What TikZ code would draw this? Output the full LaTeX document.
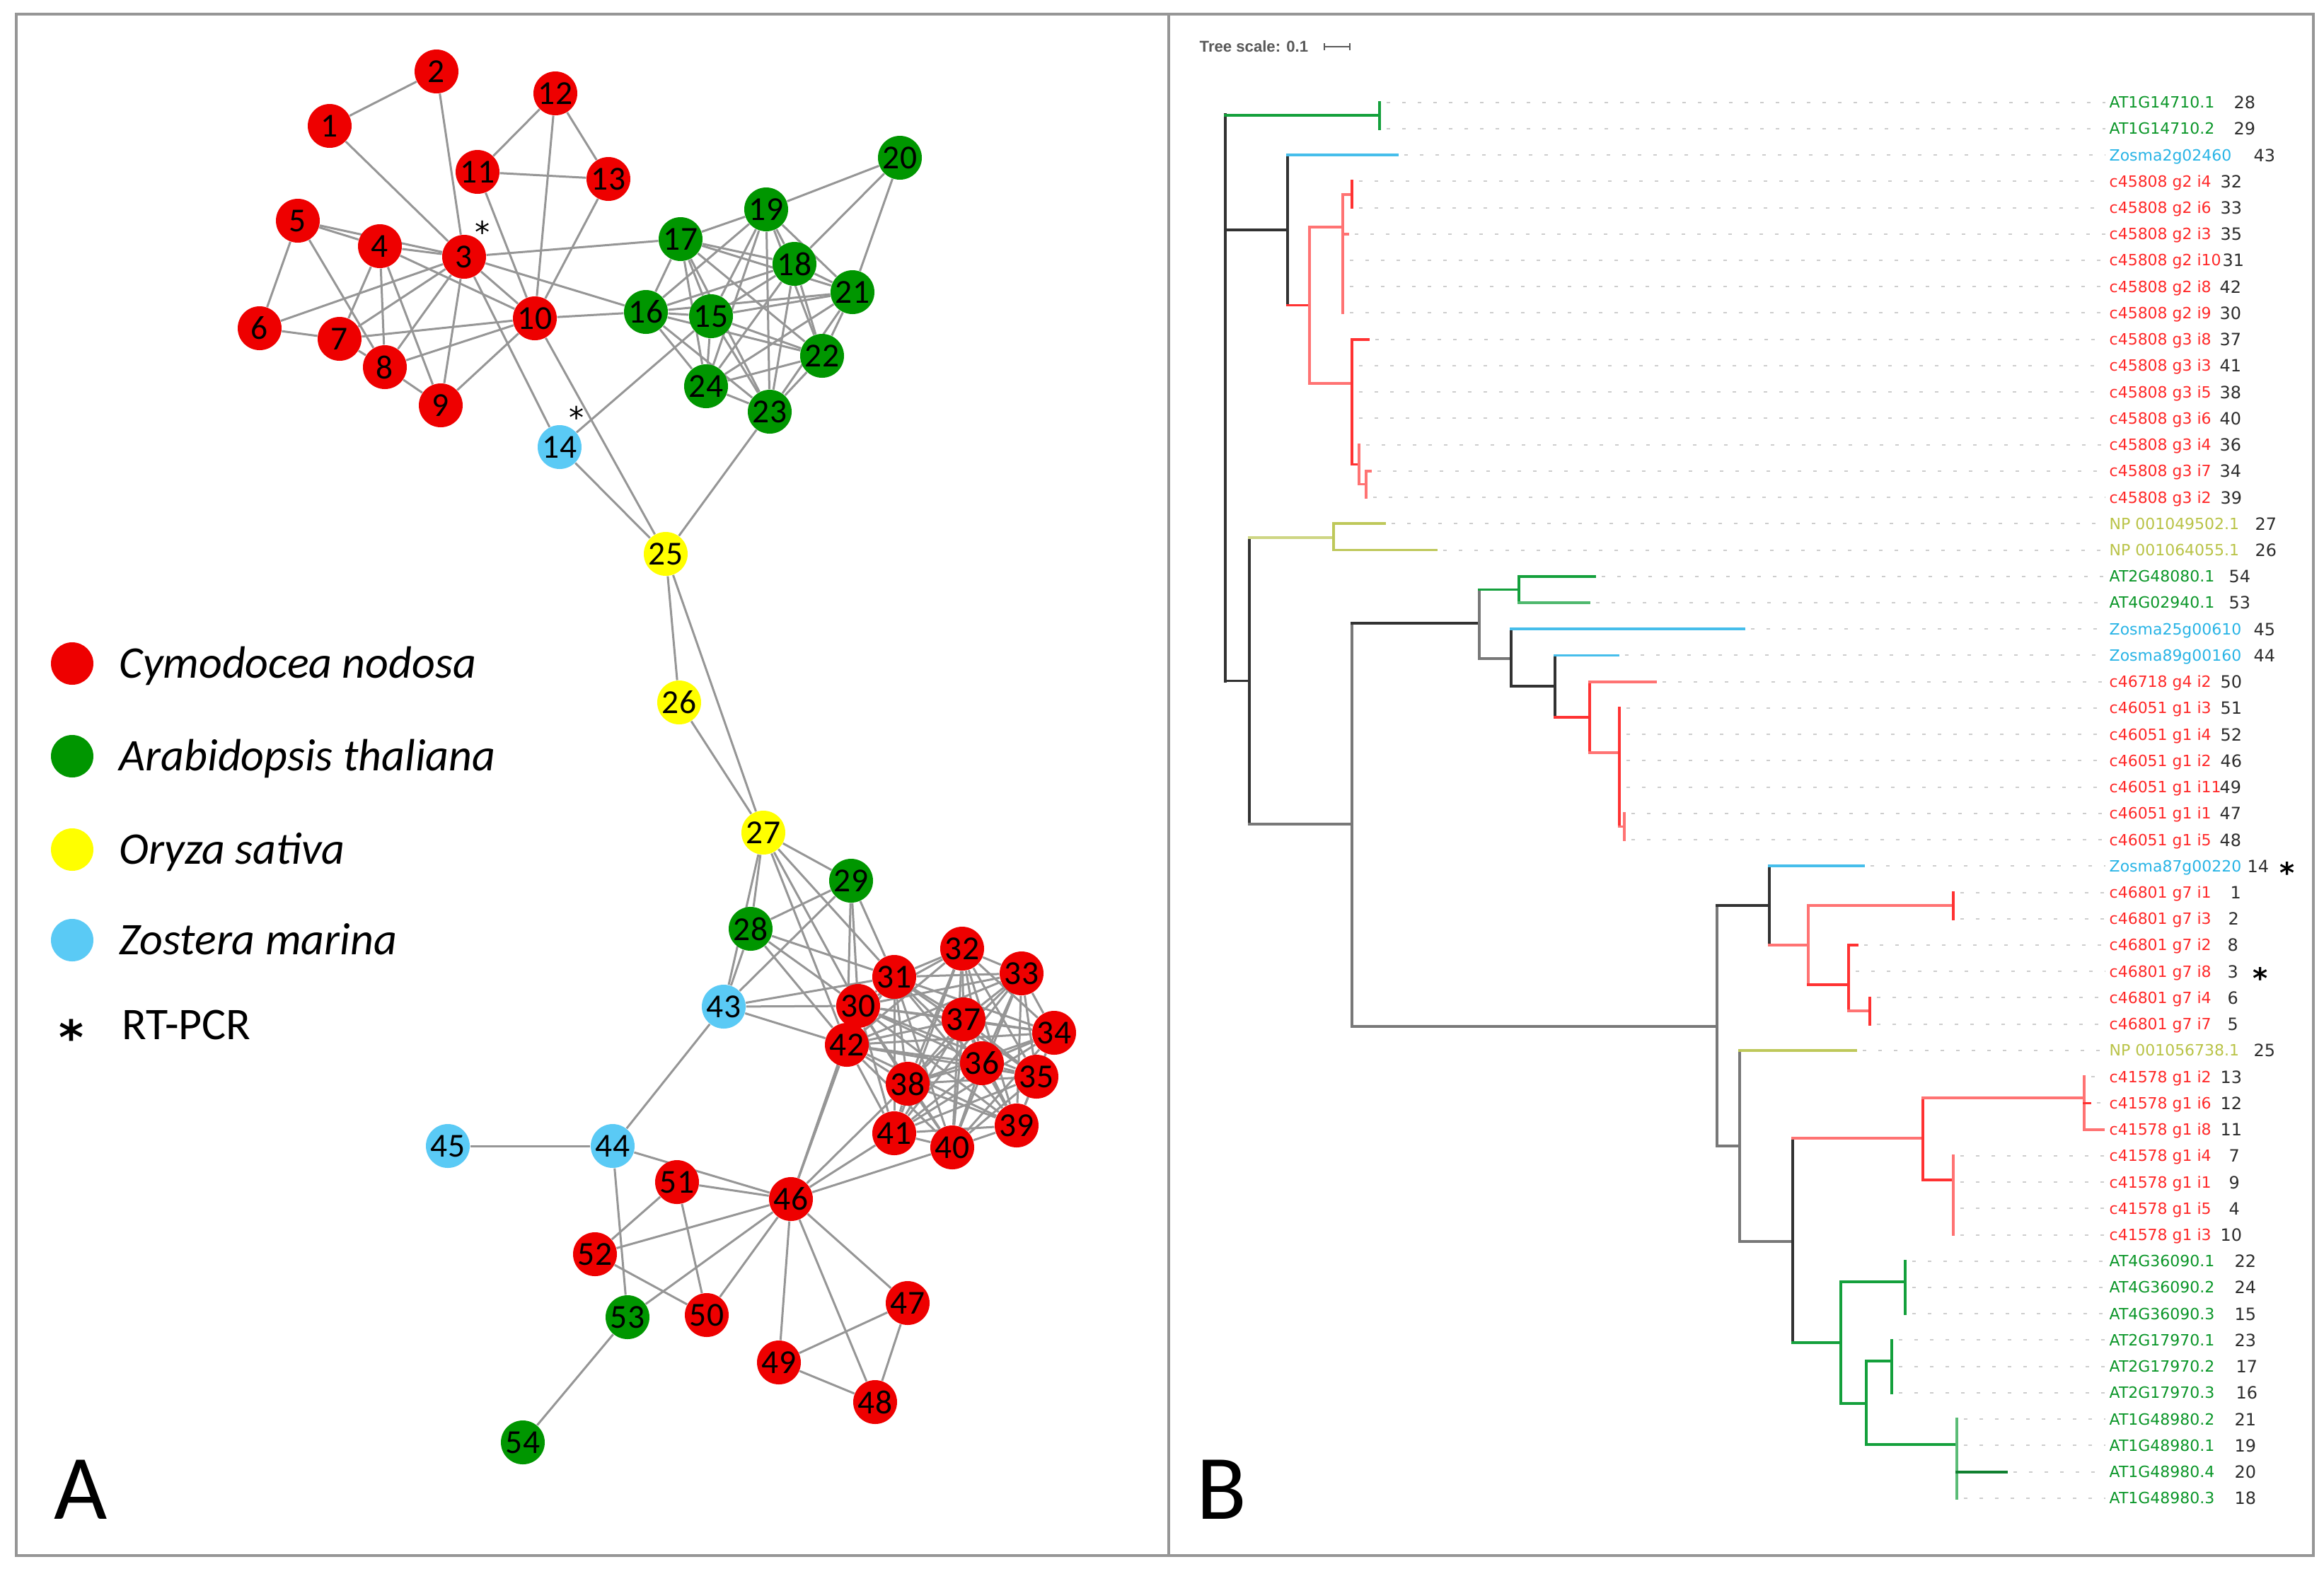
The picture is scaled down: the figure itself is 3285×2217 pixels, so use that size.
\documentclass[tikz,border=0pt]{standalone}
\usepackage{fontspec}
\setmainfont{Carlito}
\newfontfamily\treefont{DejaVu Sans}
\newfontfamily\scalefnt{Liberation Sans}
\definecolor{netred}{RGB}{238,0,0}
\definecolor{netgreen}{RGB}{0,150,0}
\definecolor{netyellow}{RGB}{255,255,0}
\definecolor{netblue}{RGB}{90,202,245}
\definecolor{edgegray}{RGB}{150,150,150}
\definecolor{tred}{RGB}{255,50,50}
\definecolor{tredl}{RGB}{255,115,115}
\definecolor{tgreen}{RGB}{20,160,60}
\definecolor{tblue}{RGB}{70,190,235}
\definecolor{tolive}{RGB}{190,200,90}
\definecolor{tdark}{RGB}{50,50,50}
\definecolor{tgray}{RGB}{120,120,120}
\definecolor{lred}{RGB}{255,40,40}
\definecolor{lgreen}{RGB}{10,150,40}
\definecolor{lblue}{RGB}{40,180,230}
\definecolor{lolive}{RGB}{185,195,70}
\definecolor{numgray}{RGB}{45,45,45}
\definecolor{guidegray}{RGB}{205,205,205}
\definecolor{framegray}{RGB}{150,150,150}
\pgfdeclarelayer{back}
\pgfdeclarelayer{edges}
\pgfsetlayers{back,edges,main}
\begin{document}
\begin{tikzpicture}[x=0.1mm,y=-0.1mm,
  net/.style={circle, minimum size=6.2mm, inner sep=0pt, font=\fontsize{13.5}{14}\selectfont, text=black},
  sred/.style={net, fill=netred},
  sgreen/.style={net, fill=netgreen},
  syellow/.style={net, fill=netyellow},
  sblue/.style={net, fill=netblue},
  edge/.style={draw=edgegray, line width=0.3mm},
  br/.style={line width=0.38mm, line cap=rect},
  guide/.style={draw=guidegray, line width=0.2mm, dash pattern=on 0.5mm off 1.7mm},
  lab/.style={anchor=base west, inner sep=0pt, font=\treefont\fontsize{6.25}{7}\selectfont},
  num/.style={anchor=base west, inner sep=0pt, font=\treefont\fontsize{6.8}{7}\selectfont, text=numgray},
  legtext/.style={anchor=base west, inner sep=0pt, font=\fontsize{18.2}{19}\selectfont\itshape},
  star/.style={anchor=base, inner sep=0pt}
]
\useasboundingbox (0,0) rectangle (3285,2217);
\begin{pgfonlayer}{back}
\fill[white] (0,0) rectangle (3285,2217);
\end{pgfonlayer}
% frame
\draw[framegray, line width=0.45mm] (23,20) rectangle (3270,2199);
\draw[framegray, line width=0.45mm] (1652,20) -- (1652,2199);

% ---------------- Panel A: network nodes
\node[sred] (n1) at (466,178) {1};
\node[sred] (n2) at (617,101) {2};
\node[sred] (n3) at (656,363) {3};
\node[sred] (n4) at (537,348) {4};
\node[sred] (n5) at (421,312) {5};
\node[sred] (n6) at (367,464) {6};
\node[sred] (n7) at (480,479) {7};
\node[sred] (n8) at (544,519) {8};
\node[sred] (n9) at (623,573) {9};
\node[sred] (n10) at (756,450) {10};
\node[sred] (n11) at (675,243) {11};
\node[sred] (n12) at (785,132) {12};
\node[sred] (n13) at (860,253) {13};
\node[sblue] (n14) at (791,632) {14};
\node[sgreen] (n15) at (1005,447) {15};
\node[sgreen] (n16) at (913,441) {16};
\node[sgreen] (n17) at (962,338) {17};
\node[sgreen] (n18) at (1123,373) {18};
\node[sgreen] (n19) at (1083,296) {19};
\node[sgreen] (n20) at (1272,223) {20};
\node[sgreen] (n21) at (1205,413) {21};
\node[sgreen] (n22) at (1162,503) {22};
\node[sgreen] (n23) at (1088,582) {23};
\node[sgreen] (n24) at (998,546) {24};
\node[syellow] (n25) at (941,783) {25};
\node[syellow] (n26) at (960,993) {26};
\node[syellow] (n27) at (1079,1177) {27};
\node[sgreen] (n28) at (1061,1313) {28};
\node[sgreen] (n29) at (1203,1245) {29};
\node[sred] (n30) at (1213,1422) {30};
\node[sred] (n31) at (1264,1381) {31};
\node[sred] (n32) at (1360,1341) {32};
\node[sred] (n33) at (1444,1376) {33};
\node[sred] (n34) at (1490,1460) {34};
\node[sred] (n35) at (1465,1522) {35};
\node[sred] (n36) at (1388,1503) {36};
\node[sred] (n37) at (1362,1441) {37};
\node[sred] (n38) at (1283,1532) {38};
\node[sred] (n39) at (1437,1591) {39};
\node[sred] (n40) at (1346,1622) {40};
\node[sred] (n41) at (1264,1602) {41};
\node[sred] (n42) at (1197,1477) {42};
\node[sblue] (n43) at (1023,1423) {43};
\node[sblue] (n44) at (866,1620) {44};
\node[sblue] (n45) at (633,1620) {45};
\node[sred] (n46) at (1118,1695) {46};
\node[sred] (n47) at (1283,1842) {47};
\node[sred] (n48) at (1237,1982) {48};
\node[sred] (n49) at (1101,1926) {49};
\node[sred] (n50) at (999,1859) {50};
\node[sred] (n51) at (957,1671) {51};
\node[sred] (n52) at (841,1773) {52};
\node[sgreen] (n53) at (887,1862) {53};
\node[sgreen] (n54) at (739,2039) {54};

\node[star, font=\treefont\fontsize{12}{13}\selectfont] (st3) at (682,343) {*};
\node[star, font=\treefont\fontsize{12}{13}\selectfont] (st14) at (815,605) {*};

\begin{pgfonlayer}{edges}
\foreach \a/\b in {1/2,1/3,2/3,12/11,12/10,12/13,11/13,11/10,13/10,5/4,5/3,5/6,5/8,6/7,6/3,7/8,4/7,4/8,4/9,4/3,4/10,7/3,7/10,8/3,8/10,8/9,9/3,9/10,3/10,3/14,3/16,3/17,10/16,10/25,14/25,14/15,23/25,20/19,20/18,20/21,25/26,26/27,25/27,27/29,27/28,27/43,27/31,27/30,27/42,29/28,29/43,29/30,29/42,29/31,28/31,28/30,28/42,28/43,43/31,43/30,43/42,43/44,44/45,44/46,44/53,51/46,51/52,51/50,52/46,52/50,53/46,53/54,50/46,46/49,46/48,46/47,47/49,47/48,49/48,46/42,46/30,46/41,46/40,46/38}
  {\draw[edge] (n\a) -- (n\b);}
\foreach \a/\rest in {15/{16,17,18,19,21,22,23,24},16/{17,18,19,21,22,23,24},17/{18,19,21,22,23,24},18/{19,21,22,23,24},19/{21,22,23,24},21/{22,23,24},22/{23,24},23/{24}}
  {\foreach \b in \rest {\draw[edge] (n\a) -- (n\b);}}
\foreach \a in {30,...,41}
  {\pgfmathtruncatemacro\c{\a+1}
   \foreach \b in {\c,...,42} {\draw[edge] (n\a) -- (n\b);}}
\end{pgfonlayer}

% legend
\node[net, fill=netred, minimum size=6mm] (lg1) at (102,938) {};
\node[net, fill=netgreen, minimum size=6mm] (lg2) at (102,1069) {};
\node[net, fill=netyellow, minimum size=6mm] (lg3) at (102,1201) {};
\node[net, fill=netblue, minimum size=6mm] (lg4) at (102,1329) {};
\node[legtext] (lt1) at (168,958) {Cymodocea nodosa};
\node[legtext] (lt2) at (168,1089) {Arabidopsis thaliana};
\node[legtext] (lt3) at (168,1221) {Oryza sativa};
\node[legtext] (lt4) at (168,1349) {Zostera marina};
\node[star, font=\treefont\bfseries\fontsize{19}{20}\selectfont] (lst) at (101,1490) {*};
\node[legtext, font=\fontsize{18.2}{19}\selectfont\upshape] (lt5) at (172,1469) {RT-PCR};

\node[anchor=base west, inner sep=0pt, font=\fontsize{37}{40}\selectfont] (pa) at (76,2147) {A};
\node[anchor=base west, inner sep=0pt, font=\fontsize{37}{40}\selectfont] (pb) at (1691,2147) {B};

% ---------------- Panel B: tree
\node[anchor=base west, inner sep=0pt, text=black!65, font=\scalefnt\bfseries\fontsize{6.3}{7}\selectfont] (ts) at (1695,73) {Tree scale: 0.1};
\draw[black!65, line width=0.2mm] (1872,66) -- (1908,66);
\draw[black!65, line width=0.2mm] (1872,61) -- (1872,71);
\draw[black!65, line width=0.2mm] (1908,61) -- (1908,71);

\foreach \i/\tip/\t/\c/\n/\nx in {
1/1950/AT1G14710.1/lgreen/28/3157,
2/1950/AT1G14710.2/lgreen/29/3157,
3/1975/Zosma2g02460/lblue/43/3185,
4/1911/c45808 g2 i4/lred/32/3138,
5/1911/c45808 g2 i6/lred/33/3138,
6/1905/c45808 g2 i3/lred/35/3138,
7/1898/c45808 g2 i10/lred/31/3141,
8/1898/c45808 g2 i8/lred/42/3137,
9/1898/c45808 g2 i9/lred/30/3137,
10/1934/c45808 g3 i8/lred/37/3137,
11/1911/c45808 g3 i3/lred/41/3137,
12/1911/c45808 g3 i5/lred/38/3137,
13/1911/c45808 g3 i6/lred/40/3137,
14/1921/c45808 g3 i4/lred/36/3137,
15/1937/c45808 g3 i7/lred/34/3137,
16/1931/c45808 g3 i2/lred/39/3138,
17/1957/NP 001049502.1/lolive/27/3187,
18/2030/NP 001064055.1/lolive/26/3187,
19/2254/AT2G48080.1/lgreen/54/3150,
20/2246/AT4G02940.1/lgreen/53/3150,
21/2465/Zosma25g00610/lblue/45/3185,
22/2287/Zosma89g00160/lblue/44/3185,
23/2340/c46718 g4 i2/lred/50/3138,
24/2289/c46051 g1 i3/lred/51/3138,
25/2289/c46051 g1 i4/lred/52/3138,
26/2289/c46051 g1 i2/lred/46/3138,
27/2289/c46051 g1 i11/lred/49/3137,
28/2296/c46051 g1 i1/lred/47/3137,
29/2296/c46051 g1 i5/lred/48/3137,
30/2634/Zosma87g00220/lblue/14/3176,
31/2761/c46801 g7 i1/lred/1/3152,
32/2761/c46801 g7 i3/lred/2/3149,
33/2625/c46801 g7 i2/lred/8/3148,
34/2613/c46801 g7 i8/lred/3/3148,
35/2643/c46801 g7 i4/lred/6/3148,
36/2643/c46801 g7 i7/lred/5/3148,
37/2623/NP 001056738.1/lolive/25/3185,
38/2946/c41578 g1 i2/lred/13/3138,
39/2954/c41578 g1 i6/lred/12/3138,
40/2960/c41578 g1 i8/lred/11/3138,
41/2761/c41578 g1 i4/lred/7/3150,
42/2761/c41578 g1 i1/lred/9/3150,
43/2761/c41578 g1 i5/lred/4/3150,
44/2761/c41578 g1 i3/lred/10/3138,
45/2693/AT4G36090.1/lgreen/22/3158,
46/2693/AT4G36090.2/lgreen/24/3158,
47/2693/AT4G36090.3/lgreen/15/3158,
48/2674/AT2G17970.1/lgreen/23/3158,
49/2674/AT2G17970.2/lgreen/17/3160,
50/2674/AT2G17970.3/lgreen/16/3160,
51/2766/AT1G48980.2/lgreen/21/3158,
52/2766/AT1G48980.1/lgreen/19/3158,
53/2836/AT1G48980.4/lgreen/20/3158,
54/2766/AT1G48980.3/lgreen/18/3158}
{
  \pgfmathsetmacro\yy{144.6+(\i-1)*37.23}
  \draw[guide] (\tip+10,\yy) -- (2976,\yy);
  \node[lab, text=\c] (L\i) at (2981,\yy+8) {\t};
  \node[num] (N\i) at (\nx,\yy+9) {\n};
}
\node[star, font=\treefont\bfseries\fontsize{11.5}{12}\selectfont] (ts30) at (3233,1248) {*};
\node[star, font=\treefont\bfseries\fontsize{11.5}{12}\selectfont] (ts34) at (3195,1397) {*};

% branches
\draw[br, tdark] (1732,162) -- (1732,963);
\draw[br, tgreen] (1732,163.2) -- (1950,163.2);
\draw[br, tgreen] (1950,144.6) -- (1950,181.8);
\draw[br, tdark] (1732,325.3) -- (1820,325.3);
\draw[br, tdark] (1820,219.1) -- (1820,431.5);
\draw[br, tblue] (1820,219.1) -- (1975,219.1);
\draw[br, tred] (1820,431.5) -- (1851,431.5);
\draw[br, tredl] (1851,321) -- (1851,542);
\draw[br, tredl] (1851,321) -- (1898,321);
\draw[br, tredl] (1898,274.9) -- (1898,442.4);
\draw[br, tredl] (1898,274.9) -- (1911,274.9);
\draw[br, tred] (1911,256.3) -- (1911,293.5);
\draw[br, tredl] (1898,330.8) -- (1905,330.8);
\draw[br, tredl] (1851,542) -- (1911,542);
\draw[br, tred] (1911,479.7) -- (1911,656.5);
\draw[br, tred] (1911,479.7) -- (1934,479.7);
\draw[br, tred] (1911,656.5) -- (1921,656.5);
\draw[br, tredl] (1921,628.6) -- (1921,684.4);
\draw[br, tredl] (1921,684.4) -- (1931,684.4);
\draw[br, tredl] (1931,665.8) -- (1931,703.1);
\draw[br, tredl] (1931,665.8) -- (1937,665.8);
\draw[br, tdark] (1732,962.5) -- (1766,962.5);
\draw[br, tdark] (1766,760) -- (1766,1165);
\draw[br, tolive!75] (1766,760) -- (1885,760);
\draw[br, tolive] (1885,740.3) -- (1885,777.5);
\draw[br, tolive] (1885,740.3) -- (1957,740.3);
\draw[br, tolive] (1885,777.5) -- (2030,777.5);
\draw[br, tgray] (1766,1165) -- (1911,1165);
\draw[br, tgray] (1911,881) -- (1911,1451);
\draw[br, tdark] (1911,881) -- (2091,881);
\draw[br, tgray] (2091,833.4) -- (2091,931);
\draw[br, tgreen] (2091,833.4) -- (2147,833.4);
\draw[br, tgreen] (2147,814.7) -- (2147,852.0);
\draw[br, tgreen] (2147,814.7) -- (2254,814.7);
\draw[br, tgreen!75] (2147,852.0) -- (2246,852.0);
\draw[br, tgray] (2091,931) -- (2136,931);
\draw[br, tdark] (2136,889.2) -- (2136,970);
\draw[br, tblue] (2136,889.2) -- (2465,889.2);
\draw[br, tdark] (2136,970) -- (2198,970);
\draw[br, tdark] (2198,926.4) -- (2198,1014);
\draw[br, tblue] (2198,926.4) -- (2287,926.4);
\draw[br, tred] (2198,1014) -- (2247,1014);
\draw[br, tred] (2247,963.7) -- (2247,1064);
\draw[br, tredl] (2247,963.7) -- (2340,963.7);
\draw[br, tredl] (2247,1064) -- (2289,1064);
\draw[br, tred] (2289,1000.9) -- (2289,1168.4);
\draw[br, tredl] (2289,1168.4) -- (2296,1168.4);
\draw[br, tredl] (2296,1149.8) -- (2296,1187.1);
\draw[br, tgray] (1911,1451) -- (2427,1451);
\draw[br, tgray] (2427,1280) -- (2427,1620);
\draw[br, tdark] (2427,1280) -- (2501,1280);
\draw[br, tdark] (2501,1224.3) -- (2501,1336);
\draw[br, tblue] (2501,1224.3) -- (2634,1224.3);
\draw[br, tredl] (2501,1336) -- (2556,1336);
\draw[br, tredl] (2556,1280.2) -- (2556,1392);
\draw[br, tredl] (2556,1280.2) -- (2761,1280.2);
\draw[br, tred] (2761,1261.5) -- (2761,1298.8);
\draw[br, tred] (2556,1392) -- (2613,1392);
\draw[br, tred] (2613,1336) -- (2613,1429);
\draw[br, tred] (2613,1336) -- (2625,1336);
\draw[br, tredl] (2613,1429) -- (2643,1429);
\draw[br, tred] (2643,1410.4) -- (2643,1447.7);
\draw[br, tgray] (2427,1620) -- (2459,1620);
\draw[br, tgray] (2459,1484.9) -- (2459,1755);
\draw[br, tolive] (2459,1484.9) -- (2623,1484.9);
\draw[br, tgray] (2459,1755) -- (2534,1755);
\draw[br, tdark] (2534,1609) -- (2534,1898);
\draw[br, tredl] (2534,1609) -- (2718,1609);
\draw[br, tred] (2718,1552) -- (2718,1668);
\draw[br, tredl] (2718,1552) -- (2946,1552);
\draw[br, tredl] (2946,1522.1) -- (2946,1596.6);
\draw[br, tred] (2946,1559.4) -- (2954,1559.4);
\draw[br, tredl] (2946,1596.6) -- (2973,1596.6);
\draw[br, tred] (2718,1668) -- (2761,1668);
\draw[br, tredl] (2761,1633.8) -- (2761,1745.5);
\draw[br, tgreen] (2534,1898) -- (2602,1898);
\draw[br, tgreen] (2602,1812) -- (2602,1984);
\draw[br, tgreen] (2602,1812) -- (2693,1812);
\draw[br, tgreen] (2693,1782.8) -- (2693,1857.2);
\draw[br, tgreen] (2602,1984) -- (2638,1984);
\draw[br, tgreen] (2638,1924) -- (2638,2042);
\draw[br, tgreen] (2638,1924) -- (2674,1924);
\draw[br, tgreen] (2674,1894.5) -- (2674,1968.9);
\draw[br, tgreen] (2638,2042) -- (2766,2042);
\draw[br, tgreen!70] (2766,2006.1) -- (2766,2117.8);
\draw[br, tgreen!80!black] (2766,2080.6) -- (2836,2080.6);
\end{tikzpicture}
\end{document}
